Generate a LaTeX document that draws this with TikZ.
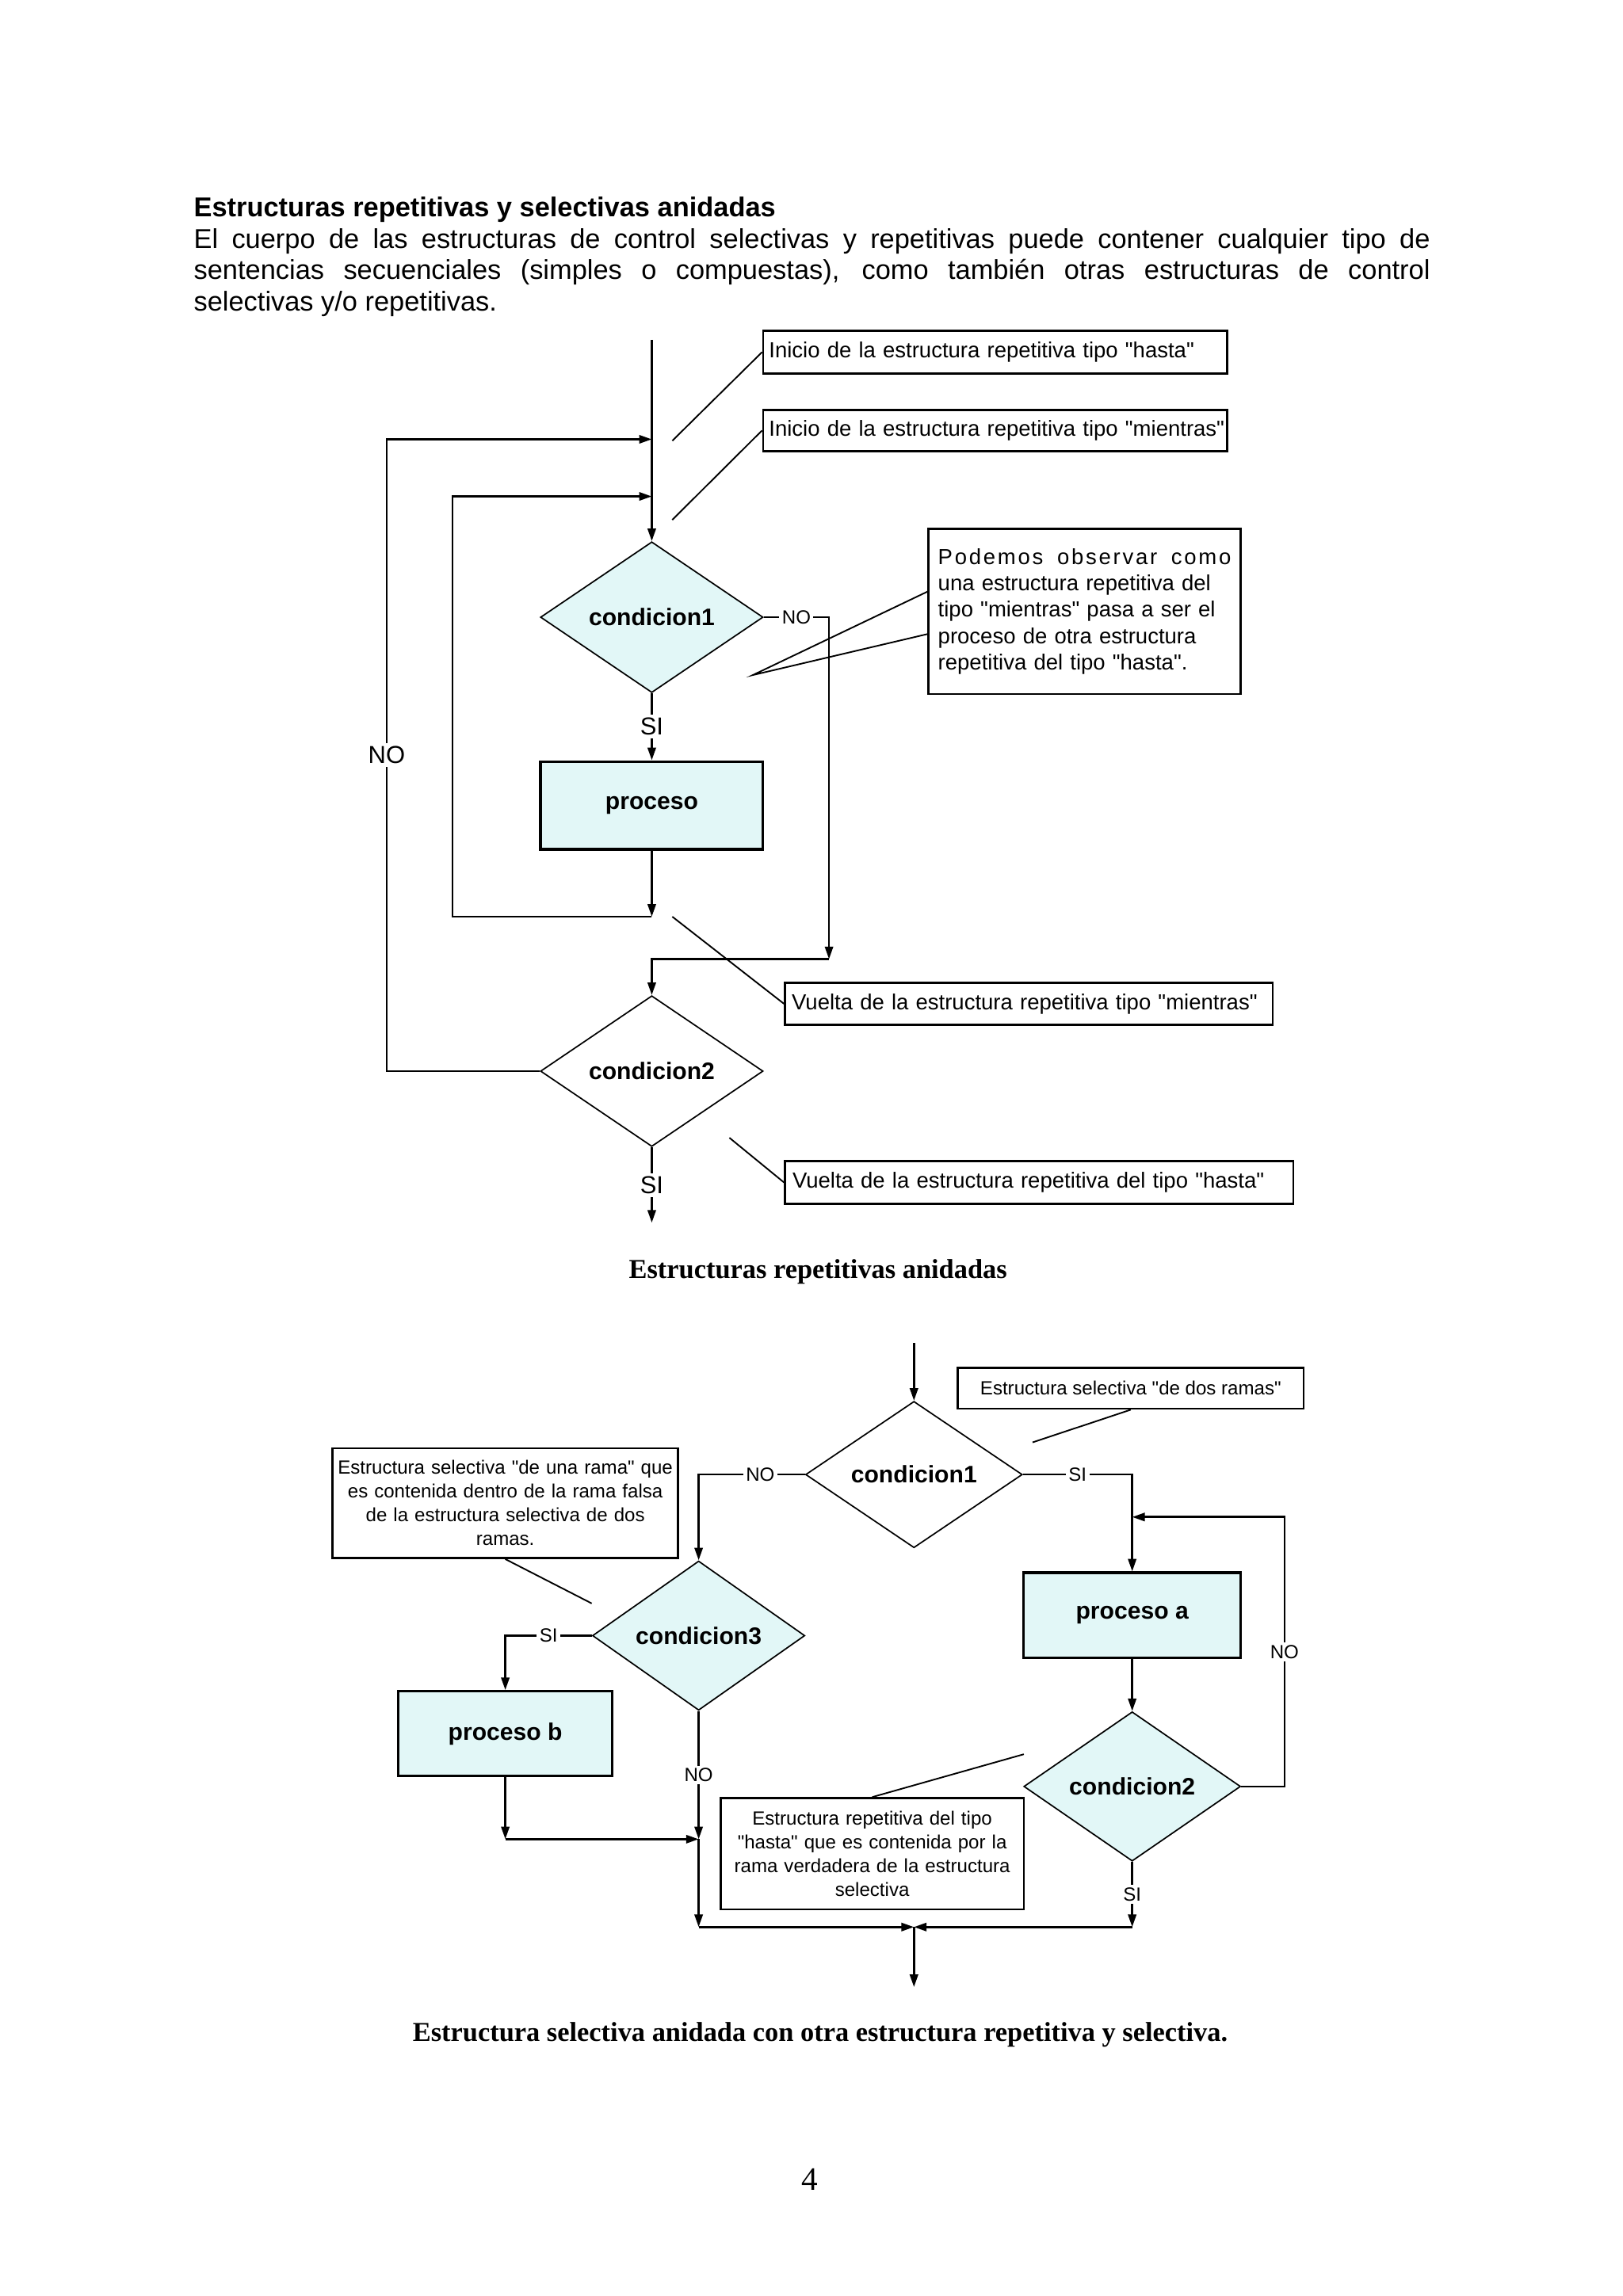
\documentclass[tikz,border=0pt]{standalone}
\usepackage{fontspec}
\setmainfont{Liberation Sans}
\newfontfamily\dfont{Liberation Sans}
\newfontfamily\serifx{Liberation Serif}
\usetikzlibrary{shapes.geometric,arrows.meta}
\definecolor{cy}{RGB}{226,247,247}
\begin{document}
\begin{tikzpicture}[x=0.5373pt,y=-0.5373pt,
  every node/.style={inner sep=0pt},
  ln/.style={line width=0.75pt},
  ar/.style={line width=0.75pt,-{Triangle[length=4.6pt,width=3pt]}},
  ptr/.style={line width=0.55pt},
  dia/.style n args={2}{draw,shape=diamond,line width=0.5pt,minimum width={#1*0.5373pt},minimum height={#2*0.5373pt},font=\dfont\bfseries\fontsize{8.75}{10}\selectfont},
  proc/.style n args={2}{draw,rectangle,line width=0.9pt,fill=cy,minimum width={#1*0.5373pt},minimum height={#2*0.5373pt},font=\dfont\bfseries\fontsize{8.75}{10}\selectfont},
  note/.style={draw,rectangle,line width=0.8pt,fill=white},
  bignote/.style={note,font=\dfont\fontsize{8}{9.7}\selectfont,align=left},
  smallnote/.style={note,font=\dfont\fontsize{7}{8.7}\selectfont,align=center},
  lbl/.style={fill=white,inner sep=1.2pt,font=\dfont\fontsize{9}{10}\selectfont},
  slbl/.style={fill=white,inner sep=1pt,font=\dfont\fontsize{7}{8}\selectfont},
  body/.style={anchor=base west,font=\fontsize{10}{11.5}\selectfont}]
\fill[white] (0,0) rectangle (1108,1568);
\useasboundingbox (0,0) rectangle (1108,1568);

% ---------- text ----------
\node[body,font=\bfseries\fontsize{10}{11.5}\selectfont] (t0) at (132,148) {Estructuras repetitivas y selectivas anidadas};
\node[body] (t1) at (132,169.4) {\makebox[453.5pt][s]{El cuerpo de las estructuras de control selectivas y repetitivas puede contener cualquier tipo de}};
\node[body] (t2) at (132,190.8) {\makebox[453.5pt][s]{sentencias secuenciales (simples o compuestas), como también otras estructuras de control}};
\node[body] (t3) at (132,212.2) {selectivas y/o repetitivas.};

% ---------- diagram 1 ----------
\node[dia={152}{103},fill=cy] (c1) at (445,421.5) {condicion1};
\node[proc={152}{60}] (p) at (445,550) {proceso};
\node[dia={152}{103},fill=white] (c2) at (445,731.5) {condicion2};

\coordinate (T0) at (445,232);
\coordinate (J1) at (445,300);
\coordinate (J2) at (445,339);
\coordinate (M1) at (445,626);
\coordinate (N2) at (566,655);
\coordinate (E1) at (445,835);

\draw[ar] (T0) -- (c1.north);
\draw[ar] (c1.south) -- node[lbl]{SI} (p.north);
\draw[ar] (p.south) -- (M1);
\draw[ar] (M1) -- (309,626) -- (309,339) -- (J2);
\draw[ar] (c1.east) -- node[slbl]{NO} (566,421.5) -- (N2);
\draw[ar] (N2) -- (445,655) -- (c2.north);
\draw[ar] (c2.west) -- (264,731.5) -- node[lbl]{NO} (264,300) -- (J1);
\draw[ar] (c2.south) -- node[lbl]{SI} (E1);

\node[bignote,minimum width=170.32pt,minimum height=15.58pt,text width=166pt] (h1) at (679.5,240.5) {\mbox{Inicio de la estructura repetitiva tipo "hasta"}};
\node[bignote,minimum width=170.32pt,minimum height=15.04pt,text width=166pt] (h2) at (679.5,294) {\mbox{Inicio de la estructura repetitiva tipo "mientras"}};
\node[bignote,minimum width=114.44pt,minimum height=60.71pt,text width=107.5pt] (obs) at (740.5,417.5) {\makebox[107.5pt][l]{\addfontfeature{LetterSpace=10}Podemos\hfill observar\hfill como}\\una estructura repetitiva del\\tipo "mientras" pasa a ser el\\proceso de otra estructura\\repetitiva del tipo "hasta".};
\node[bignote,minimum width=178.92pt,minimum height=15.58pt,text width=174pt] (v1) at (702.5,685.5) {\mbox{Vuelta de la estructura repetitiva tipo "mientras"}};
\node[bignote,minimum width=186.44pt,minimum height=15.58pt,text width=181pt] (v2) at (709.5,807.5) {\mbox{Vuelta de la estructura repetitiva del tipo "hasta"}};

\coordinate (h1T) at (459,301);
\coordinate (h2T) at (459,355);
\coordinate (oT) at (514,461);
\coordinate (v1T) at (459,626);
\coordinate (v2T) at (498,777);
\draw[ptr] (h1.west) -- (h1T);
\draw[ptr] (h2.west) -- (h2T);
\draw[ptr] ([yshift=7.25pt]obs.west) -- (oT) -- ([yshift=-8.33pt]obs.west);
\draw[ptr] (v1.west) -- (v1T);
\draw[ptr] (v2.west) -- (v2T);

\node[anchor=base,font=\serifx\bfseries\fontsize{10}{12}\selectfont] (cap1) at (558.5,873) {Estructuras repetitivas anidadas};

% ---------- diagram 2 ----------
\node[dia={148}{100},fill=white] (d1) at (624,1007) {condicion1};
\node[dia={145}{102},fill=cy] (d3) at (477,1117) {condicion3};
\node[proc={148}{58}] (pa) at (773,1103) {proceso a};
\node[dia={148}{102},fill=cy] (d2) at (773,1220) {condicion2};
\node[proc={146}{58}] (pb) at (345,1184) {proceso b};

\coordinate (S0) at (624,917);
\coordinate (R1) at (773,1036);
\coordinate (Q1) at (345,1256);
\coordinate (Q2) at (477,1256);
\coordinate (Q3) at (477,1316);
\coordinate (Q4) at (773,1316);
\coordinate (Q5) at (624,1316);
\coordinate (E2) at (624,1357);

\draw[ar] (S0) -- (d1.north);
\draw[ar] (d1.west) -- node[slbl,pos=0.42]{NO} (477,1007) -- (d3.north);
\draw[ar] (d1.east) -- node[slbl]{SI} (773,1007) -- (pa.north);
\draw[ar] (pa.south) -- (d2.north);
\draw[ar] (d2.east) -- (877,1220) -- node[slbl]{NO} (877,1036) -- (R1);
\draw[ar] (d2.south) -- node[slbl]{SI} (Q4);
\draw[ar] (Q4) -- (Q5);
\draw[ar] (d3.west) -- node[slbl]{SI} (345,1117) -- (pb.north);
\draw[ar] (pb.south) -- (Q1);
\draw[ar] (Q1) -- (Q2);
\draw[ar] (d3.south) -- node[slbl]{NO} (Q2);
\draw[ar] (Q2) -- (Q3);
\draw[ar] (Q3) -- (Q5);
\draw[ar] (Q5) -- (E2);

\node[smallnote,minimum width=126.8pt,minimum height=15.04pt] (b1) at (772,948) {Estructura selectiva "de dos ramas"};
\node[smallnote,minimum width=126.8pt,minimum height=40.3pt,text width=123pt] (b2) at (345,1026.5) {Estructura selectiva "de una rama" que\\es contenida dentro de la rama falsa\\de la estructura selectiva de dos\\ramas.};
\node[smallnote,minimum width=111.22pt,minimum height=40.83pt,text width=108pt] (b3) at (595.5,1266) {Estructura repetitiva del tipo\\"hasta" que es contenida por la\\rama verdadera de la estructura\\selectiva};

\coordinate (b1T) at (705,985);
\coordinate (b2T) at (404,1095);
\coordinate (b3T) at (699,1198);
\draw[ptr] (b1.south) -- (b1T);
\draw[ptr] (b2.south) -- (b2T);
\draw[ptr] (b3.north) -- (b3T);

\node[anchor=base,font=\serifx\bfseries\fontsize{10}{12}\selectfont] (cap2) at (560,1394) {Estructura selectiva anidada con otra estructura repetitiva y selectiva.};
\node[anchor=base,font=\serifx\fontsize{12}{14}\selectfont] (pg) at (553,1496) {4};
\end{tikzpicture}
\end{document}
